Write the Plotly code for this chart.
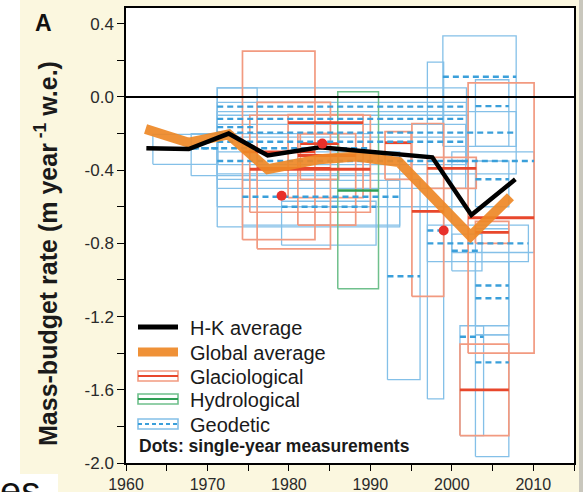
import plotly.graph_objects as go

# ---------------- data ----------------
hk_years = [1962.5, 1967.7, 1972.6, 1977.4, 1983.8, 1989.9, 1997.6, 2002.4, 2007.8]
hk_rate = [-0.28, -0.285, -0.20, -0.32, -0.275, -0.30, -0.33, -0.645, -0.45]

glob_years = [1962.4, 1967.7, 1972.6, 1977.4, 1983.8, 1988.3, 1993.5, 2002.3, 2007.2]
glob_rate = [-0.175, -0.25, -0.205, -0.395, -0.34, -0.325, -0.355, -0.76, -0.545]

# Geodetic studies: period start/end, range low/high, mean
geo_start = [1963.3, 1971.2, 1971.2, 1971.2, 1971.2, 1968.0, 1971.2, 1974.3, 1979.1, 1992.1,
             1997.0, 1998.9, 2002.9, 1971.2, 1997.0, 2000.0, 2002.9, 2002.9, 2002.9, 2001.0,
             2000.0, 2002.9, 1971.2]
geo_end = [1971.3, 2001.8, 2001.8, 2007.9, 2001.7, 1990.0, 2002.0, 1993.6, 1990.7, 1996.1,
           1999.0, 2007.9, 2007.0, 1976.1, 2009.4, 2003.7, 2007.0, 2007.0, 2007.0, 2003.9,
           2010.1, 2007.0, 1993.6]
geo_low = [-0.368, -0.22, -0.37, -0.42, -0.50, -0.43, -0.60, -0.70, -0.81, -1.545,
           -1.65, -0.27, -0.27, -0.45, -0.90, -0.95, -1.25, -1.30, -1.965, -1.85,
           -0.85, -0.60, -0.71]
geo_high = [-0.205, 0.05, -0.03, -0.08, -0.15, -0.20, -0.10, -0.456, -0.57, -0.45,
            0.19, 0.334, 0.094, 0.05, -0.70, -0.75, -0.72, -0.90, -1.30, -1.25,
            -0.30, -0.35, -0.30]
geo_mean = [-0.28, -0.053, -0.12, -0.195, -0.245, -0.28, -0.35, -0.545, -0.60, -0.98,
            -0.73, 0.11, -0.05, -0.165, -0.80, -0.84, -1.03, -1.10, -1.45, -1.31,
            -0.35, -0.45, None]

# Glaciological studies
gla_start = [1974.3, 1976.1, 1975.2, 1979.9, 1981.1, 1981.4, 1991.8, 1995.1, 1997.0, 2001.0, 2002.0, 2002.9]
gla_end = [1983.2, 1985.1, 1990.0, 1989.1, 1988.2, 1986.1, 1995.0, 1999.0, 2003.0, 2007.0, 2010.1, 2007.0]
gla_low = [-0.78, -0.83, -0.63, -0.55, -0.70, -0.45, -0.45, -1.09, -0.50, -1.85, -1.40, -0.80]
gla_high = [0.25, -0.03, -0.10, -0.096, -0.20, -0.20, -0.19, -0.145, -0.33, -1.35, 0.077, -0.68]
gla_mean = [-0.30, -0.39, -0.395, -0.14, -0.32, -0.255, -0.25, -0.625, -0.39, -1.60, -0.66, -0.74]

# Hydrological studies
hyd_start = [1986.0]
hyd_end = [1991.0]
hyd_low = [-1.048]
hyd_high = [0.028]
hyd_mean = [-0.511]

# Single-year measurements
dot_years = [1979.1, 1984.1, 1999.0]
dot_rate = [-0.54, -0.255, -0.73]

x_tickvals = [1960, 1965, 1970, 1975, 1980, 1985, 1990, 1995, 2000, 2005, 2010, 2015]
x_ticktext = ["1960", " ", "1970", " ", "1980", " ", "1990", " ", "2000", " ", "2010", " "]
y_tickvals = [0.4, 0.2, 0.0, -0.2, -0.4, -0.6, -0.8, -1.0, -1.2, -1.4, -1.6, -1.8, -2.0]
y_ticktext = ["0.4", " ", "0.0", " ", "-0.4", " ", "-0.8", " ", "-1.2", " ", "-1.6", " ", "-2.0"]

# ---------------- helpers ----------------
def boxes(starts, ends, lows, highs):
    xs, ys = [], []
    for s, e, lo, hi in zip(starts, ends, lows, highs):
        xs += [s, e, e, s, s, None]
        ys += [lo, lo, hi, hi, lo, None]
    return xs, ys


def means(starts, ends, ms):
    xs, ys = [], []
    for s, e, m in zip(starts, ends, ms):
        if m is None:
            continue
        xs += [s, e, None]
        ys += [m, m, None]
    return xs, ys


BLUE_BOX = "#84c0e8"
BLUE_MEAN = "#3a9fda"
RED_BOX = "#f29a80"
RED_MEAN = "#e8472c"
GREEN_BOX = "#6fc08c"
GREEN_MEAN = "#2f9e55"
ORANGE = "rgba(238,136,38,0.92)"
FONT = "Liberation Sans, Arial, Helvetica, sans-serif"

fig = go.Figure()

bx, by = boxes(geo_start, geo_end, geo_low, geo_high)
fig.add_trace(go.Scatter(x=bx, y=by, mode="lines", line=dict(color=BLUE_BOX, width=1.3),
                         hoverinfo="skip", showlegend=False))
rx, ry = boxes(gla_start, gla_end, gla_low, gla_high)
fig.add_trace(go.Scatter(x=rx, y=ry, mode="lines", line=dict(color=RED_BOX, width=1.7),
                         hoverinfo="skip", showlegend=False))
gx, gy = boxes(hyd_start, hyd_end, hyd_low, hyd_high)
fig.add_trace(go.Scatter(x=gx, y=gy, mode="lines", line=dict(color=GREEN_BOX, width=1.5),
                         hoverinfo="skip", showlegend=False))

rmx, rmy = means(gla_start, gla_end, gla_mean)
fig.add_trace(go.Scatter(x=rmx, y=rmy, mode="lines", line=dict(color=RED_MEAN, width=2.8),
                         hoverinfo="skip", showlegend=False))
gmx, gmy = means(hyd_start, hyd_end, hyd_mean)
fig.add_trace(go.Scatter(x=gmx, y=gmy, mode="lines", line=dict(color=GREEN_MEAN, width=2.5),
                         hoverinfo="skip", showlegend=False))
bmx, bmy = means(geo_start, geo_end, geo_mean)
fig.add_trace(go.Scatter(x=bmx, y=bmy, mode="lines",
                         line=dict(color=BLUE_MEAN, width=2.4, dash="6px,4px"),
                         hoverinfo="skip", showlegend=False))

fig.add_trace(go.Scatter(x=glob_years, y=glob_rate, mode="lines",
                         line=dict(color=ORANGE, width=10), showlegend=False))
fig.add_trace(go.Scatter(x=hk_years, y=hk_rate, mode="lines",
                         line=dict(color="black", width=4.5), showlegend=False))
fig.add_trace(go.Scatter(x=dot_years, y=dot_rate, mode="markers",
                         marker=dict(color="#e8302a", size=10), showlegend=False))

# ---------------- layout geometry (pixels) ----------------
W, H = 583, 492
L, R, T, B = 126, 574, 8, 463


def px(x):
    return (x - L) / (R - L)


def py(y):
    return (B - y) / (B - T)


shapes = []
# white margins of the page
shapes.append(dict(type="rect", xref="paper", yref="paper", x0=px(0), x1=px(20), y0=py(H), y1=py(0),
                   fillcolor="white", line=dict(width=0), layer="below"))
shapes.append(dict(type="rect", xref="paper", yref="paper", x0=px(0), x1=px(58), y0=py(H), y1=py(474),
                   fillcolor="white", line=dict(width=0), layer="below"))
shapes.append(dict(type="rect", xref="paper", yref="paper", x0=px(579), x1=px(W + 2), y0=py(H), y1=py(0),
                   fillcolor="#c9c7bd", line=dict(width=0), layer="below"))
# zero line
shapes.append(dict(type="line", xref="x domain", yref="y", x0=0, x1=1, y0=0, y1=0,
                   line=dict(color="black", width=2), layer="above"))

# legend symbols
lx0, lx1 = 138, 178
shapes.append(dict(type="line", xref="paper", yref="paper", x0=px(lx0), x1=px(lx1), y0=py(327), y1=py(327),
                   line=dict(color="black", width=5)))
shapes.append(dict(type="line", xref="paper", yref="paper", x0=px(lx0), x1=px(lx1), y0=py(352), y1=py(352),
                   line=dict(color=ORANGE, width=9)))
for yc, bc, mc, dash in [(376, RED_BOX, RED_MEAN, "solid"), (399, GREEN_BOX, GREEN_MEAN, "solid"),
                         (424, BLUE_BOX, BLUE_MEAN, "4px,3px")]:
    shapes.append(dict(type="rect", xref="paper", yref="paper", x0=px(lx0), x1=px(lx1),
                       y0=py(yc + 5), y1=py(yc - 5), line=dict(color=bc, width=1.6)))
    shapes.append(dict(type="line", xref="paper", yref="paper", x0=px(lx0), x1=px(lx1), y0=py(yc), y1=py(yc),
                       line=dict(color=mc, width=2.2, dash=dash)))

annotations = []
for text, yc in [("H-K average", 328), ("Global average", 353), ("Glaciological", 377),
                 ("Hydrological", 400), ("Geodetic", 425)]:
    annotations.append(dict(text=text, xref="paper", yref="paper", x=px(188), y=py(yc),
                            xanchor="left", yanchor="middle", showarrow=False,
                            font=dict(family=FONT, size=20, color="#1a1a1a")))
annotations.append(dict(text="<b>Dots: single-year measurements</b>", xref="paper", yref="paper",
                        x=px(137), y=py(446), xanchor="left", yanchor="middle", showarrow=False,
                        font=dict(family=FONT, size=17.5, color="#1a1a1a")))
annotations.append(dict(text="<b>A</b>", xref="paper", yref="paper", x=px(43), y=py(23),
                        xanchor="center", yanchor="middle", showarrow=False,
                        font=dict(family=FONT, size=23, color="#111")))
annotations.append(dict(text="<b>Mass-budget rate (m year<sup> -1</sup> w.e.)</b>", xref="paper", yref="paper",
                        x=px(46), y=py(254), xanchor="center", yanchor="middle", showarrow=False,
                        textangle=-90, font=dict(family=FONT, size=25, color="#1a1a1a")))
annotations.append(dict(text="es", xref="paper", yref="paper", x=px(-2), y=py(468),
                        xanchor="left", yanchor="top", showarrow=False,
                        font=dict(family=FONT, size=38, color="#111")))

fig.update_layout(
    width=W, height=H,
    margin=dict(l=L, r=W - R, t=T, b=H - B, autoexpand=False),
    paper_bgcolor="#fbf7df",
    plot_bgcolor="white",
    showlegend=False,
    shapes=shapes,
    annotations=annotations,
    font=dict(family=FONT, size=16, color="#2a2a2a"),
)
fig.update_xaxes(range=[1960, 2015], tickvals=x_tickvals, ticktext=x_ticktext,
                 ticks="outside", ticklen=6, tickwidth=1, tickcolor="black",
                 showline=True, linecolor="black", linewidth=1.5, mirror=True,
                 showgrid=False, zeroline=False, tickfont=dict(size=16), automargin=False)
fig.update_yaxes(range=[-2.0, 0.486], tickvals=y_tickvals, ticktext=y_ticktext,
                 ticks="outside", ticklen=7, tickwidth=1, tickcolor="black",
                 showline=True, linecolor="black", linewidth=1.5, mirror=True,
                 showgrid=False, zeroline=False, tickfont=dict(size=17), automargin=False)

fig.write_html("out.html", config={"displayModeBar": False},
               post_script="document.body.style.margin='0px';document.body.style.padding='0px';")
